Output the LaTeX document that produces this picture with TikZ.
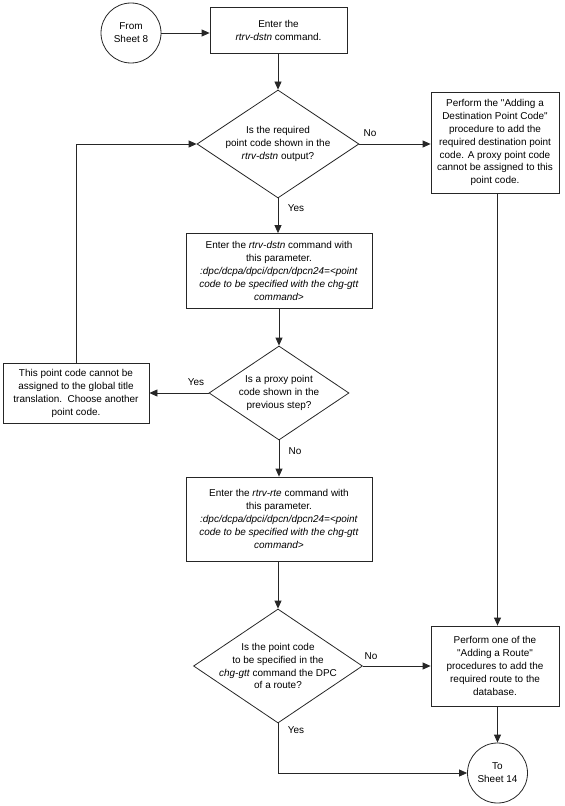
\documentclass[tikz,border=0pt]{standalone}
\usepackage{fontspec}
\setmainfont{Liberation Sans}[Ligatures=TeXOff]
\usetikzlibrary{shapes.geometric,arrows.meta}
\begin{document}
\begin{tikzpicture}[x=1bp,y=-1bp,
  every node/.style={font=\fontsize{10}{13}\selectfont},
  line/.style={draw=black!85,line width=0.8bp},
  arr/.style={line,-{Triangle[length=8bp,width=7bp]}},
  procbox/.style={draw=black!85,line width=0.8bp,rectangle,inner sep=0pt,align=center},
  dia/.style={draw=black!85,line width=0.8bp,diamond,inner sep=0pt},
  term/.style={draw=black!85,line width=0.8bp,circle,inner sep=0pt,minimum size=60bp,align=center},
  txt/.style={align=center,inner sep=0pt},
  lab/.style={inner sep=0pt}]
\useasboundingbox (0,0) rectangle (565,806);

\node[term] (from) at (131,33) {From\\Sheet 8};
\node[procbox,minimum width=137bp,minimum height=46bp] (b1) at (278.5,30) {Enter the\\\textit{rtrv-dstn} command.};

\node[dia,minimum width=162bp,minimum height=108bp] (d1) at (278,144) {};
\node[txt] at (d1) {Is the required\\point code shown in the\\\textit{rtrv-dstn} output?};

\node[procbox,minimum width=128bp,minimum height=101bp] (dpc) at (495,142.5) {Perform the "Adding a\\Destination Point Code"\\procedure to add the\\required destination point\\code. A proxy point code\\cannot be assigned to this\\point code.};

\node[procbox,minimum width=186bp,minimum height=75bp] (b2) at (279,271) {Enter the \textit{rtrv-dstn} command with\\this parameter.\\\textit{:dpc/dcpa/dpci/dpcn/dpcn24=<point}\\\textit{code to be specified with the chg-gtt}\\\textit{command>}};

\node[dia,minimum width=140bp,minimum height=94bp] (d2) at (279,393) {};
\node[txt] at (d2) {Is a proxy point\\code shown in the\\previous step?};

\node[procbox,minimum width=146bp,minimum height=60bp] (left) at (76,393) {This point code cannot be\\assigned to the global title\\translation.\ \ Choose another\\point code.};

\node[procbox,minimum width=186bp,minimum height=84bp] (b3) at (279,519) {Enter the \textit{rtrv-rte} command with\\this parameter.\\\textit{:dpc/dcpa/dpci/dpcn/dpcn24=<point}\\\textit{code to be specified with the chg-gtt}\\\textit{command>}};

\node[dia,minimum width=169bp,minimum height=114bp] (d3) at (278,666) {};
\node[txt] at (d3) {Is the point code\\to be specified in the\\\textit{chg-gtt} command the DPC\\of a route?};

\node[procbox,minimum width=128bp,minimum height=80bp] (rte) at (495,666) {Perform one of the\\"Adding a Route"\\procedures to add the\\required route to the\\database.};

\node[term] (to) at (497.5,773) {To\\Sheet 14};

\draw[arr] (from.east) -- (b1.west |- from.east);
\draw[arr] (b1.south -| d1.north) -- (d1.north);
\draw[arr] (d1.east) -- (dpc.west |- d1.east);
\draw[arr] (d1.south) -- (b2.north -| d1.south);
\draw[arr] (b2.south -| d2.north) -- (d2.north);
\draw[arr] (d2.west) -- (left.east |- d2.west);
\draw[arr] (left.north) |- (d1.west);
\draw[arr] (d2.south) -- (b3.north -| d2.south);
\draw[arr] (b3.south -| d3.north) -- (d3.north);
\draw[arr] (d3.east) -- (rte.west |- d3.east);
\draw[arr] (dpc.south -| to.north) -- (rte.north -| to.north);
\draw[arr] (rte.south -| to.north) -- (to.north);
\draw[arr] (d3.south) |- (to.west);

\node[lab] at (370,133) {No};
\node[lab] at (296,208) {Yes};
\node[lab] at (196,382) {Yes};
\node[lab] at (295,451) {No};
\node[lab] at (371,656) {No};
\node[lab] at (296,730) {Yes};
\end{tikzpicture}
\end{document}
